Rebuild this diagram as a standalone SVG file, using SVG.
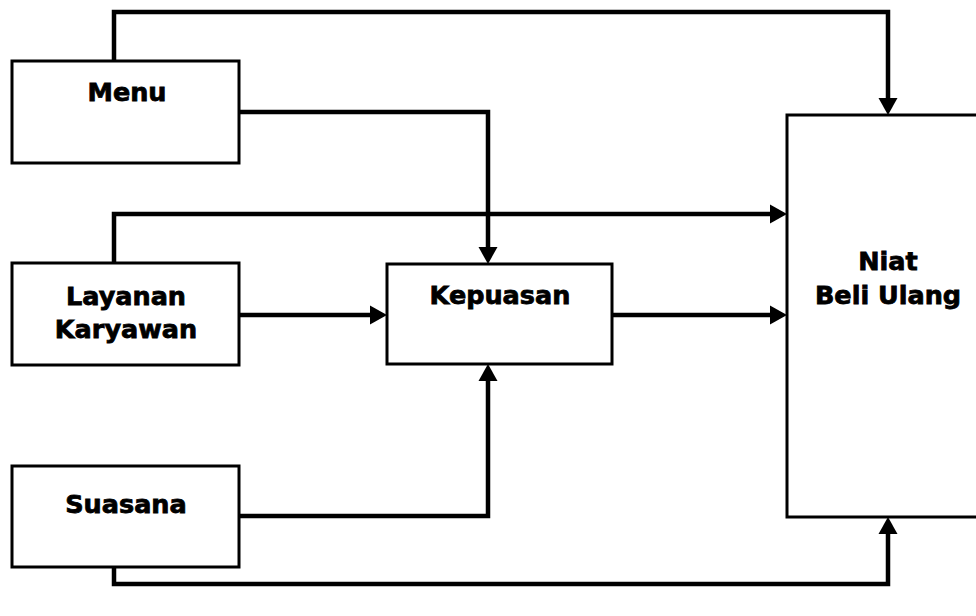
<svg xmlns="http://www.w3.org/2000/svg" width="976" height="616" viewBox="0 0 976 616">
<style>
.box{fill:#fff;stroke:#000;stroke-width:3}
.lbl{font-family:"DejaVu Sans","Verdana",sans-serif;font-weight:bold;font-size:25.5px;fill:#000;stroke:#000;stroke-width:0.8;text-anchor:middle}
.con{fill:none;stroke:#000;stroke-width:4.5;stroke-linejoin:miter}
</style>
<defs>
<marker id="ah" markerUnits="userSpaceOnUse" markerWidth="18" markerHeight="20" refX="9" refY="9.5" orient="auto" viewBox="0 0 18 19">
<path d="M0,0 L17,9.5 L0,19 Z" fill="#000"/>
</marker>
</defs>
<rect width="976" height="616" fill="#fff"/>
<g id="connectors">
<path class="con" d="M114,61 V12 H888 V107" marker-end="url(#ah)"/>
<path class="con" d="M239,112 H488 V256" marker-end="url(#ah)"/>
<path class="con" d="M114,263 V214 H779" marker-end="url(#ah)"/>
<path class="con" d="M239,315 H379" marker-end="url(#ah)"/>
<path class="con" d="M612,315 H779" marker-end="url(#ah)"/>
<path class="con" d="M239,516 H488 V372" marker-end="url(#ah)"/>
<path class="con" d="M114,567 V584 H888 V525" marker-end="url(#ah)"/>
</g>
<g id="menu">
<rect class="box" x="12" y="61" width="227" height="102"/>
<text class="lbl" x="127" y="101">Menu</text>
</g>
<g id="layanan">
<rect class="box" x="12" y="263" width="227" height="102"/>
<text class="lbl" x="126" y="305">Layanan</text>
<text class="lbl" x="126" y="338">Karyawan</text>
</g>
<g id="suasana">
<rect class="box" x="12" y="466" width="227" height="101"/>
<text class="lbl" x="126" y="513">Suasana</text>
</g>
<g id="kepuasan">
<rect class="box" x="387" y="264" width="225" height="100"/>
<text class="lbl" x="500" y="304">Kepuasan</text>
</g>
<g id="niat">
<rect class="box" x="787" y="115" width="200" height="402"/>
<text class="lbl" x="888" y="270">Niat</text>
<text class="lbl" x="888" y="304">Beli Ulang</text>
</g>
</svg>
